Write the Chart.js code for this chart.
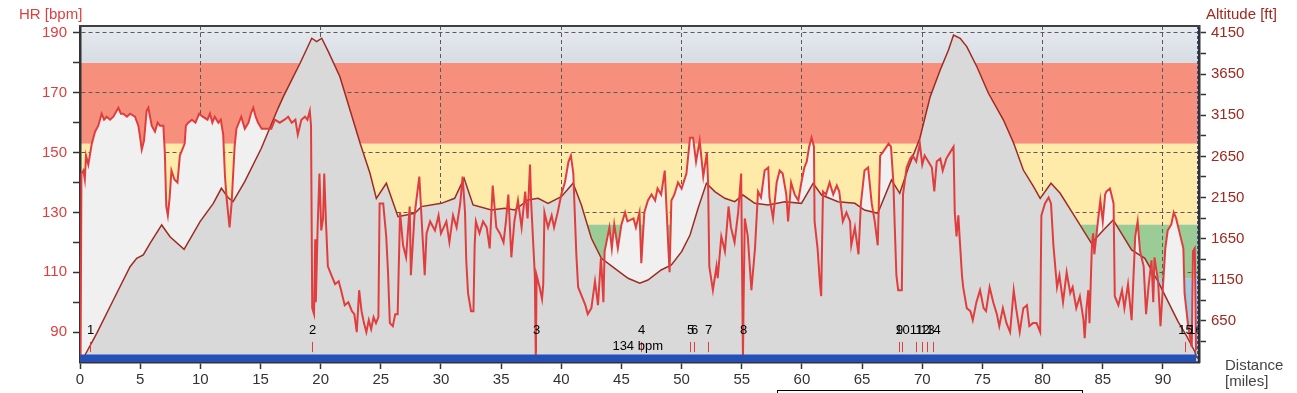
<!DOCTYPE html>
<html>
<head>
<meta charset="utf-8">
<script src="https://cdn.jsdelivr.net/npm/chart.js@4.4.1/dist/chart.umd.min.js"></script>
<style>
  html, body { margin: 0; padding: 0; background: #fff; }
  #wrap { width: 1297px; height: 393px; }
</style>
</head>
<body>
<div id="wrap"><canvas id="hrChart" width="1297" height="393"></canvas></div>
<script>
// --- data ---
const hrDist = [0.05,0.12,0.28,0.4,0.5,0.69,0.98,1.25,1.52,1.8,2.0,2.22,2.5,2.77,3.19,3.4,3.6,3.9,4.16,4.57,4.85,5.0,5.13,5.32,5.54,5.68,5.96,6.23,6.45,6.65,6.93,7.05,7.17,7.3,7.45,7.6,7.85,8.1,8.3,8.5,8.7,8.8,9.0,9.3,9.6,9.9,10.2,10.6,10.8,11.0,11.2,11.5,11.7,11.9,12.05,12.2,12.43,12.6,12.85,13.0,13.4,13.7,14.0,14.2,14.4,14.6,14.8,15.1,15.5,15.9,16.2,16.6,17.0,17.3,17.6,17.9,18.1,18.4,18.7,18.9,19.1,19.2,19.3,19.45,19.55,19.6,19.75,19.9,20.05,20.2,20.3,20.45,20.6,20.9,21.2,21.5,21.7,22.0,22.3,22.6,22.8,23.0,23.2,23.4,23.6,23.8,24.0,24.2,24.4,24.6,24.8,24.9,25.2,25.45,25.6,25.75,26.0,26.2,26.4,26.6,26.85,27.1,27.4,27.5,27.8,28.2,28.4,28.65,28.8,29.1,29.5,29.8,30.0,30.45,30.7,31.0,31.3,31.6,31.8,32.0,32.1,32.25,32.5,32.7,32.8,32.9,33.2,33.5,33.8,34.05,34.3,34.6,34.9,35.2,35.4,35.6,35.85,36.1,36.4,36.7,37.0,37.2,37.4,37.5,37.8,37.88,37.95,38.2,38.4,38.5,38.6,38.9,39.2,39.4,39.7,40.0,40.3,40.6,40.8,41.0,41.1,41.25,41.4,41.7,42.0,42.2,42.5,42.8,43.05,43.3,43.5,43.6,43.9,44.0,44.2,44.4,44.7,45.0,45.3,45.5,46.0,46.2,46.5,46.65,46.9,47.2,47.5,47.8,48.0,48.3,48.6,48.9,49.0,49.15,49.4,49.7,50.0,50.4,50.7,50.95,51.2,51.5,51.8,52.1,52.2,52.3,52.6,52.9,53.0,53.3,53.6,53.9,54.1,54.4,54.7,54.95,55.05,55.1,55.15,55.25,55.5,55.8,56.1,56.35,56.6,56.9,57.2,57.3,57.6,57.9,58.15,58.4,58.7,58.85,59.1,59.4,59.7,59.95,60.2,60.4,60.6,60.8,61.0,61.05,61.3,61.5,61.6,61.75,62.0,62.3,62.6,62.9,63.1,63.4,63.7,64.0,64.1,64.4,64.7,64.9,65.2,65.5,65.8,66.05,66.3,66.5,66.7,67.2,67.4,67.6,67.7,67.85,68.0,68.3,68.4,68.7,69.0,69.2,69.5,69.8,70.0,70.2,70.5,70.8,71.0,71.2,71.5,71.7,72.0,72.3,72.6,72.7,72.85,73.0,73.1,73.3,73.4,73.7,74.0,74.2,74.5,74.8,75.1,75.3,75.6,75.9,76.2,76.4,76.7,77.0,77.3,77.6,77.8,78.1,78.4,78.7,78.9,79.2,79.5,79.8,79.9,80.2,80.5,80.7,80.9,81.2,81.4,81.7,82.0,82.3,82.5,82.8,83.1,83.4,83.5,83.65,83.8,83.9,84.1,84.2,84.3,84.6,84.8,85.0,85.2,85.3,85.6,85.9,86.0,86.3,86.6,86.8,87.1,87.4,87.7,87.9,88.1,88.4,88.6,88.8,89.05,89.2,89.3,89.6,89.8,90.0,90.2,90.4,90.7,90.9,91.1,91.4,91.7,91.8,92.1,92.4,92.5,92.65,92.75];
const hrBpm = [82,143,144,141,149,146,153,157,159,163,161,162,161,162,165,163,163,162,163,162,159,155,151,154,164,165,159,157,160,159,159,150,132,129,135,144,141,140,149,151,153,159,160,161,160,163,162,161,163,160,162,160,161,156,142,134,125,133,152,158,162,158,160,163,165,162,160,158,158,158,161,160,161,162,160,161,156,161,162,161,164,159,98,96,121,100,125,143,124,128,143,126,112,109,106,107,104,99,100,97,96,90,104,97,93,90,94,91,95,93,95,133,133,122,110,93,92,96,96,130,119,115,132,109,129,142,127,109,123,127,124,129,123,127,120,129,125,133,142,130,114,103,97,97,119,127,123,127,125,118,139,125,123,120,127,136,115,127,134,125,137,128,146,133,109,81,109,105,101,106,130,125,129,125,130,136,140,147,149,143,132,116,105,102,99,96,98,107,99,115,100,117,123,125,118,126,118,126,130,127,128,125,130,113,130,134,136,134,138,136,144,118,110,134,136,140,138,143,155,155,147,154,142,150,140,112,104,112,108,122,117,132,125,120,130,143,100,81,100,128,122,104,118,137,135,144,145,135,128,140,144,143,136,127,140,136,134,140,145,147,152,155,152,127,118,106,102,137,136,140,136,139,137,127,130,127,119,125,116,133,144,145,133,127,119,149,150,153,152,140,127,109,104,104,136,145,148,149,147,153,146,149,147,145,137,147,148,144,148,150,152,130,122,129,122,109,105,98,97,94,100,104,98,97,105,100,96,92,98,93,90,104,98,90,98,99,92,93,93,90,129,133,135,133,119,105,109,100,110,103,105,98,102,94,88,98,104,93,119,123,116,127,134,127,136,137,138,133,102,99,104,98,106,94,122,127,117,112,96,105,114,100,115,107,92,105,118,124,126,130,128,123,118,103,92,85,117,118,84];

const altDist = [0.35,0.42,1.39,2.77,4.16,4.71,5.26,5.82,6.79,7.48,8.65,9.98,11.08,11.75,12.3,12.72,13.69,15.07,16.46,16.9,18.29,19.26,19.67,20.09,20.64,21.6,22.44,23.28,24.1,24.63,25.46,26.43,27.82,28.37,30.03,31.14,31.92,32.67,34.19,35.3,36.13,37.24,38.07,38.9,40.0,40.98,41.67,42.5,43.33,44.44,45.55,46.52,47.2,48.3,49.15,50.0,50.7,51.37,52.06,52.76,53.59,54.42,55.1,56.08,57.19,58.58,59.96,60.93,61.63,63.0,64.4,65.2,66.3,67.44,68.13,68.83,69.8,70.66,71.49,72.18,72.6,73.15,73.7,74.54,75.5,76.75,77.6,78.4,79.25,79.8,80.7,81.46,82.85,84.06,85.06,85.87,87.4,88.5,89.6,91.26,92.0,92.66,92.8];
const altFt = [190,235,499,904,1309,1411,1451,1593,1816,1673,1520,1856,2079,2262,2150,2099,2342,2748,3234,3376,3782,4086,4044,4086,3923,3619,3214,2809,2444,2140,2323,1917,1958,2039,2079,2140,2383,2059,1998,2019,1998,2120,2140,2079,2160,2323,2059,1654,1411,1289,1168,1107,1147,1269,1329,1491,1694,2019,2323,2221,2140,2099,2180,2079,2059,2099,2079,2323,2180,2099,2079,1998,1958,2363,2201,2505,2870,3376,3700,3943,4126,4086,3984,3740,3417,3092,2809,2484,2281,2140,2323,2201,1877,1593,1755,1877,1512,1411,1126,640,458,275,200];

const lapDist = [0.83,19.3,37.88,46.6,50.68,51.04,52.2,55.11,68.1,68.35,69.46,69.96,70.43,70.93,91.8,92.7];
const lapNames = ['1','2','3','4','5','6','7','8','9','10','11','12','13','14','15','16'];
const lapNote = '134 bpm';
const lapNoteDist = 46.35;

const xTicks = [0,5,10,15,20,25,30,35,40,45,50,55,60,65,70,75,80,85,90];
const hrTicks = [90,100,110,120,130,140,150,160,170,180,190];
const hrLabelTicks = [90,110,130,150,170,190];
const altTicks = [400,650,900,1150,1400,1650,1900,2150,2400,2650,2900,3150,3400,3650,3900,4150];
const altLabelTicks = [650,1150,1650,2150,2650,3150,3650,4150];

// HR zones (bpm bounds, bottom to top)
const zoneBounds = [80,108,126,153,180];
const zoneColors = ['#a0cde2','#9bcc95','#feeaa9','#f68f7b'];

const routeEnd = 92.8;
const FONT = '"Liberation Sans", Arial, sans-serif';

const hrPoints = hrDist.map((d, i) => ({ x: d, y: hrBpm[i] }));
const altPoints = altDist.map((d, i) => ({ x: d, y: altFt[i] }));

// zone bands behind everything
const zonePlugin = {
  id: 'zones',
  beforeDraw(chart) {
    const { ctx, chartArea: a, scales: { y } } = chart;
    ctx.save();
    for (let i = 0; i < zoneColors.length; i++) {
      const top = y.getPixelForValue(zoneBounds[i + 1]);
      const bot = y.getPixelForValue(zoneBounds[i]);
      ctx.fillStyle = zoneColors[i];
      ctx.fillRect(a.left, top, a.right - a.left, bot - top);
    }
    const topY = y.getPixelForValue(zoneBounds[zoneBounds.length - 1]);
    const g = ctx.createLinearGradient(0, a.top, 0, topY);
    g.addColorStop(0, '#e8ebf0');
    g.addColorStop(1, '#d6dce3');
    ctx.fillStyle = g;
    ctx.fillRect(a.left, a.top, a.right - a.left, topY - a.top);
    ctx.restore();
  }
};

// lap markers, titles and frame bits
const overlayPlugin = {
  id: 'overlay',
  afterDatasetsDraw(chart) {
    const { ctx, chartArea: a, scales: { x, y } } = chart;
    ctx.save();
    ctx.beginPath();
    ctx.rect(a.left, a.top, a.right - a.left, a.bottom - a.top);
    ctx.clip();
    ctx.strokeStyle = '#e03e3e';
    ctx.lineWidth = 1;
    ctx.font = '13px ' + FONT;
    ctx.fillStyle = '#000';
    ctx.textAlign = 'center';
    ctx.textBaseline = 'middle';
    lapDist.forEach((d, i) => {
      const px = Math.round(x.getPixelForValue(d)) + 0.5;
      ctx.fillText(lapNames[i], px, y.getPixelForValue(90.6));
      ctx.beginPath();
      ctx.moveTo(px, y.getPixelForValue(86.7));
      ctx.lineTo(px, y.getPixelForValue(83.3));
      ctx.stroke();
    });
    ctx.fillText(lapNote, x.getPixelForValue(lapNoteDist), y.getPixelForValue(85.2));
    // end of route marker
    const ex = Math.round(x.getPixelForValue(routeEnd)) + 0.5;
    ctx.strokeStyle = '#3a48b0';
    ctx.setLineDash([3, 2]);
    ctx.beginPath();
    ctx.moveTo(ex, a.top);
    ctx.lineTo(ex, a.bottom);
    ctx.stroke();
    ctx.restore();
  },
  afterDraw(chart) {
    const { ctx, chartArea: a } = chart;
    ctx.save();
    ctx.strokeStyle = '#404040';
    ctx.lineWidth = 2;
    ctx.beginPath();
    ctx.moveTo(a.left - 1, a.top);
    ctx.lineTo(a.right + 1, a.top);
    ctx.stroke();
    ctx.font = '15px ' + FONT;
    ctx.textBaseline = 'middle';
    ctx.textAlign = 'left';
    ctx.fillStyle = '#e03e3e';
    ctx.fillText('HR [bpm]', 19, 15);
    ctx.fillStyle = '#a0281e';
    ctx.fillText('Altitude [ft]', 1206, 15);
    ctx.fillStyle = '#444';
    ctx.fillText('Distance', 1225, 366);
    ctx.fillText('[miles]', 1225, 382);
    // top edge of the box cut off below the chart
    ctx.strokeStyle = '#000';
    ctx.lineWidth = 1;
    ctx.strokeRect(777.5, 390.5, 305, 20);
    ctx.restore();
  }
};

const ctx = document.getElementById('hrChart').getContext('2d');
new Chart(ctx, {
  type: 'line',
  data: {
    datasets: [
      {
        label: 'bar',
        data: [{ x: 0, y: 82.5 }, { x: routeEnd - 0.05, y: 82.5 }],
        yAxisID: 'y',
        borderColor: 'rgba(0,0,0,0)',
        borderWidth: 0,
        backgroundColor: '#2550b8',
        fill: 'start',
        pointRadius: 0,
        order: 0
      },
      {
        label: 'HR',
        data: hrPoints,
        yAxisID: 'y',
        borderColor: '#e03e3e',
        borderWidth: 2,
        fill: false,
        pointRadius: 0,
        tension: 0,
        order: 1
      },
      {
        label: 'Altitude',
        data: altPoints,
        yAxisID: 'y2',
        borderColor: '#9e2b22',
        borderWidth: 1.5,
        backgroundColor: '#d9d9d9',
        fill: 'start',
        pointRadius: 0,
        tension: 0,
        order: 2
      },
      {
        label: 'HR area',
        data: hrPoints,
        yAxisID: 'y',
        borderColor: 'rgba(0,0,0,0)',
        borderWidth: 0,
        backgroundColor: '#f0f0f0',
        fill: 'start',
        pointRadius: 0,
        tension: 0,
        order: 3
      }
    ]
  },
  options: {
    responsive: false,
    animation: false,
    devicePixelRatio: 1,
    layout: { padding: { top: 26, left: 0, right: 0, bottom: 0 } },
    plugins: {
      legend: { display: false },
      tooltip: { enabled: false }
    },
    scales: {
      x: {
        type: 'linear',
        min: 0,
        max: 93,
        afterFit: s => { s.height = 31; },
        afterBuildTicks: s => { s.ticks = xTicks.map(v => ({ value: v })); },
        ticks: {
          color: '#333',
          font: { family: FONT, size: 15 },
          padding: 2,
          maxRotation: 0,
          autoSkip: false
        },
        grid: {
          color: c => (c.tick && c.tick.value % 10 === 0 && c.tick.value > 0) ? '#5a5a5a' : 'rgba(0,0,0,0)',
          tickColor: '#333',
          tickLength: 7,
          tickWidth: 1.5,
          lineWidth: 1
        },
        border: { color: '#333', width: 2.5, dash: [4, 3] }
      },
      y: {
        position: 'left',
        min: 80,
        max: 192.33,
        afterFit: s => { s.width = 80; },
        afterBuildTicks: s => { s.ticks = hrTicks.map(v => ({ value: v })); },
        ticks: {
          color: '#e03e3e',
          font: { family: FONT, size: 15 },
          padding: 6,
          autoSkip: false,
          callback: v => hrLabelTicks.includes(v) ? String(v) : ''
        },
        grid: {
          color: c => (c.tick && hrLabelTicks.includes(c.tick.value)) ? '#5a5a5a' : 'rgba(0,0,0,0)',
          tickColor: '#333',
          tickLength: 7,
          tickWidth: 1.5,
          lineWidth: 1
        },
        border: { color: '#333', width: 2.5, dash: [4, 3] }
      },
      y2: {
        position: 'right',
        min: 150,
        max: 4235,
        afterFit: s => { s.width = 98; },
        afterBuildTicks: s => { s.ticks = altTicks.map(v => ({ value: v })); },
        ticks: {
          color: '#a0281e',
          font: { family: FONT, size: 15 },
          padding: 5,
          autoSkip: false,
          callback: v => altLabelTicks.includes(v) ? String(v) : ''
        },
        grid: {
          drawOnChartArea: false,
          tickColor: '#333',
          tickLength: 7,
          tickWidth: 1.5
        },
        border: { color: '#333', width: 2.5 }
      }
    }
  },
  plugins: [zonePlugin, overlayPlugin]
});
</script>
</body>
</html>
